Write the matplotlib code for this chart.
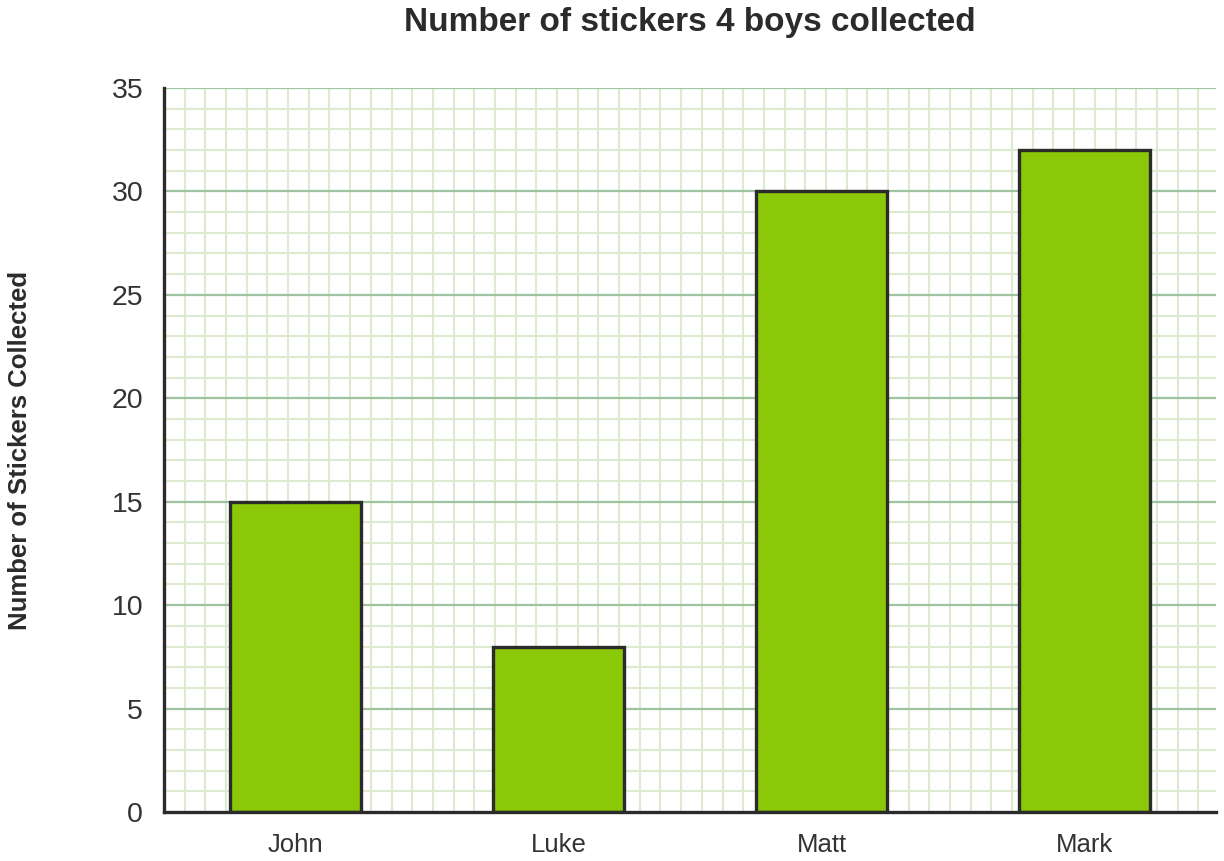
import numpy as np
import matplotlib.pyplot as plt

plt.rcParams['font.family'] = ['Liberation Sans', 'DejaVu Sans']

boys = ['John', 'Luke', 'Matt', 'Mark']
stickers = [15, 8, 30, 32]
y_ticks = [0, 5, 10, 15, 20, 25, 30, 35]

fig = plt.figure(figsize=(12.24, 8.61), dpi=100)
ax = fig.add_axes([164 / 1224, 49 / 861, 1052 / 1224, 724 / 861])

x = np.arange(len(boys))
ax.set_xlim(-0.5, 3.5)
ax.set_ylim(0, 35)

# square graph-paper grid: x spacing matched to one y unit in pixels
w_px = 1052
h_px = 724
dx = (h_px / 35) / (w_px / 4)
for xv in np.arange(-0.5, 3.5, dx):
    ax.axvline(xv, color='#dcebd0', lw=1.5, zorder=0)
for yv in range(0, 36):
    if yv % 5:
        ax.axhline(yv, color='#dcebd0', lw=1.5, zorder=0)
for yv in y_ticks[1:]:
    ax.axhline(yv, color='#9fc39f', lw=1.6, zorder=1)

ax.bar(x, stickers, width=0.5, color='#8ac808', edgecolor='#2b2b2b',
       linewidth=2.4, zorder=3)

ax.set_xticks(x)
ax.set_xticklabels(boys, fontsize=18.5, color='#333333')
ax.set_yticks(y_ticks)
ax.set_yticklabels([str(v) for v in y_ticks], fontsize=20.5, color='#333333')
ax.tick_params(length=0)
ax.tick_params(axis='x', pad=15)
ax.tick_params(axis='y', pad=15)

for s in ['top', 'right']:
    ax.spines[s].set_visible(False)
for s in ['left', 'bottom']:
    ax.spines[s].set_color('#2b2b2b')
    ax.spines[s].set_linewidth(2.4)
    ax.spines[s].set_zorder(4)

fig.text(690 / 1224, 1 - 23 / 861, 'Number of stickers 4 boys collected',
         ha='center', va='center', fontsize=24, fontweight='bold',
         color='#2b2b2b')
fig.text(20 / 1224, 1 - 450 / 861, 'Number of Stickers Collected',
         ha='center', va='center', rotation=90, fontsize=18.5,
         fontweight='bold', color='#2b2b2b')

fig.savefig('out.png', dpi=100)
